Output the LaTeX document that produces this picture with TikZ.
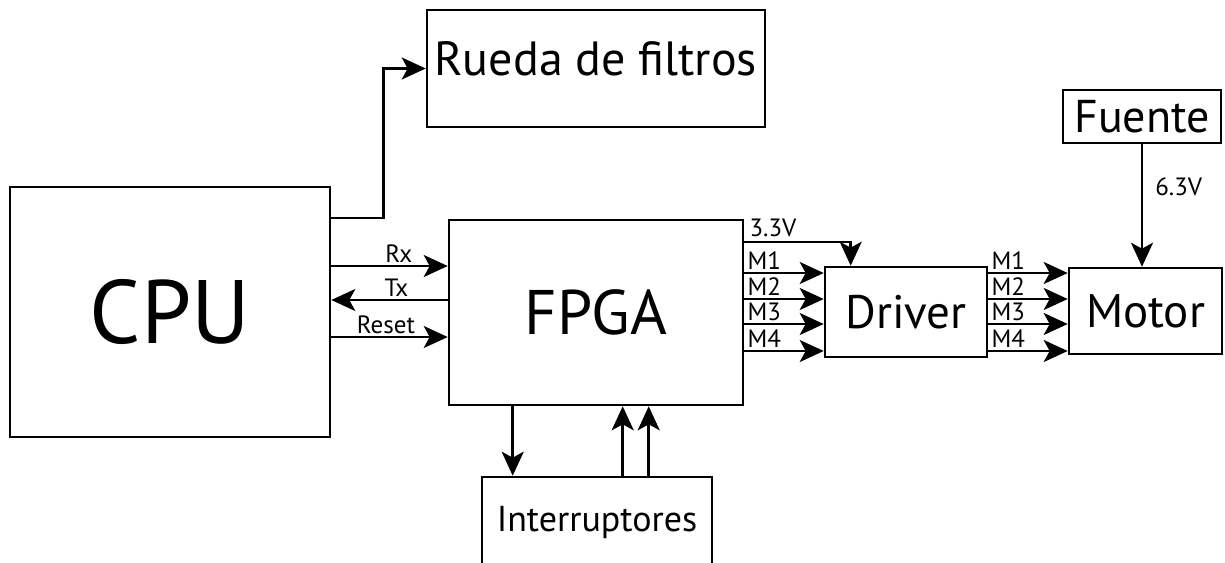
\documentclass[tikz,border=0pt]{standalone}
\usepackage{fontspec}
\setmainfont{PT Sans}
\usetikzlibrary{arrows.meta, calc}
\tikzset{
  >=Stealth,
  sigarrow/.style={-{Stealth[length=24pt, width=22pt, inset=6pt]}, line width=2.6pt},
  sigline/.style={line width=2.6pt},
  blockbox/.style={rectangle, draw, line width=2.6pt, inner sep=0pt, align=center},
  siglabel/.style={font=\fontsize{25}{28}\selectfont, inner sep=2pt}
}
\begin{document}
\begin{tikzpicture}[x=1pt, y=-1pt]
    \clip (0,0) rectangle (1225,562);

    % Blocks
    \node[blockbox, minimum width=320pt, minimum height=250pt, font=\fontsize{90}{100}\selectfont] (cpu) at (170,312) {CPU};
    \node[blockbox, minimum width=338pt, minimum height=117pt, font=\fontsize{48}{54}\selectfont, text depth=20pt] (rueda) at (596,68.5) {Rueda de filtros};
    \node[blockbox, minimum width=294pt, minimum height=185pt, font=\fontsize{63}{70}\selectfont] (fpga) at (596,312.5) {FPGA};
    \node[blockbox, minimum width=162pt, minimum height=90pt, font=\fontsize{47}{52}\selectfont] (driver) at (906,312) {Driver};
    \node[blockbox, minimum width=153pt, minimum height=86pt, font=\fontsize{47}{52}\selectfont] (motor) at (1145.5,311) {Motor};
    \node[blockbox, minimum width=158pt, minimum height=53pt, font=\fontsize{46}{52}\selectfont] (fuente) at (1142,116.5) {Fuente};
    \node[blockbox, minimum width=230pt, minimum height=90pt, font=\fontsize{36}{40}\selectfont] (inter) at (597,522) {Interruptores};

    % CPU to filter wheel
    \draw[sigarrow] (cpu.east |- 0,218) -- ++(52,0) |- (rueda.west);

    % Serial lines CPU <-> FPGA
    \draw[sigarrow] (cpu.east |- 0,266) -- (fpga.west |- 0,266) node[siglabel, above, pos=0.58] {Rx};
    \draw[sigarrow] (fpga.west |- 0,300) -- (cpu.east |- 0,300) node[siglabel, above, pos=0.44] {Tx};
    \draw[sigarrow] (cpu.east |- 0,337) -- (fpga.west |- 0,337) node[siglabel, above, pos=0.47] {Reset};

    % Supply to driver
    \coordinate (vin) at ($(driver.north west)+(27,0)$);
    \draw[sigarrow] (fpga.east |- 0,242) node[siglabel, anchor=south west, inner sep=4pt] {3.3V} -| (vin);

    % Phase lines
    \foreach \y/\lab in {273/M1, 299/M2, 324/M3, 351/M4} {
        \draw[sigarrow] (fpga.east |- 0,\y) -- (driver.west |- 0,\y) node[siglabel, pos=0, anchor=south west] {\lab};
        \draw[sigarrow] (driver.east |- 0,\y) -- (motor.west |- 0,\y) node[siglabel, pos=0, anchor=south west] {\lab};
    }

    % Motor supply
    \draw[sigarrow] (fuente.south) -- (fuente.south |- motor.north) node[siglabel, right, pos=0.35, inner sep=12pt] {6.3V};

    % Switches
    \coordinate (sw1) at ($(inter.north west)+(32,0)$);
    \coordinate (sw2) at ($(inter.north west)+(142,0)$);
    \coordinate (sw3) at ($(inter.north west)+(168,0)$);
    \draw[sigarrow] (fpga.south -| sw1) -- (sw1);
    \draw[sigarrow] (sw2) -- (fpga.south -| sw2);
    \draw[sigarrow] (sw3) -- (fpga.south -| sw3);
\end{tikzpicture}
\end{document}
